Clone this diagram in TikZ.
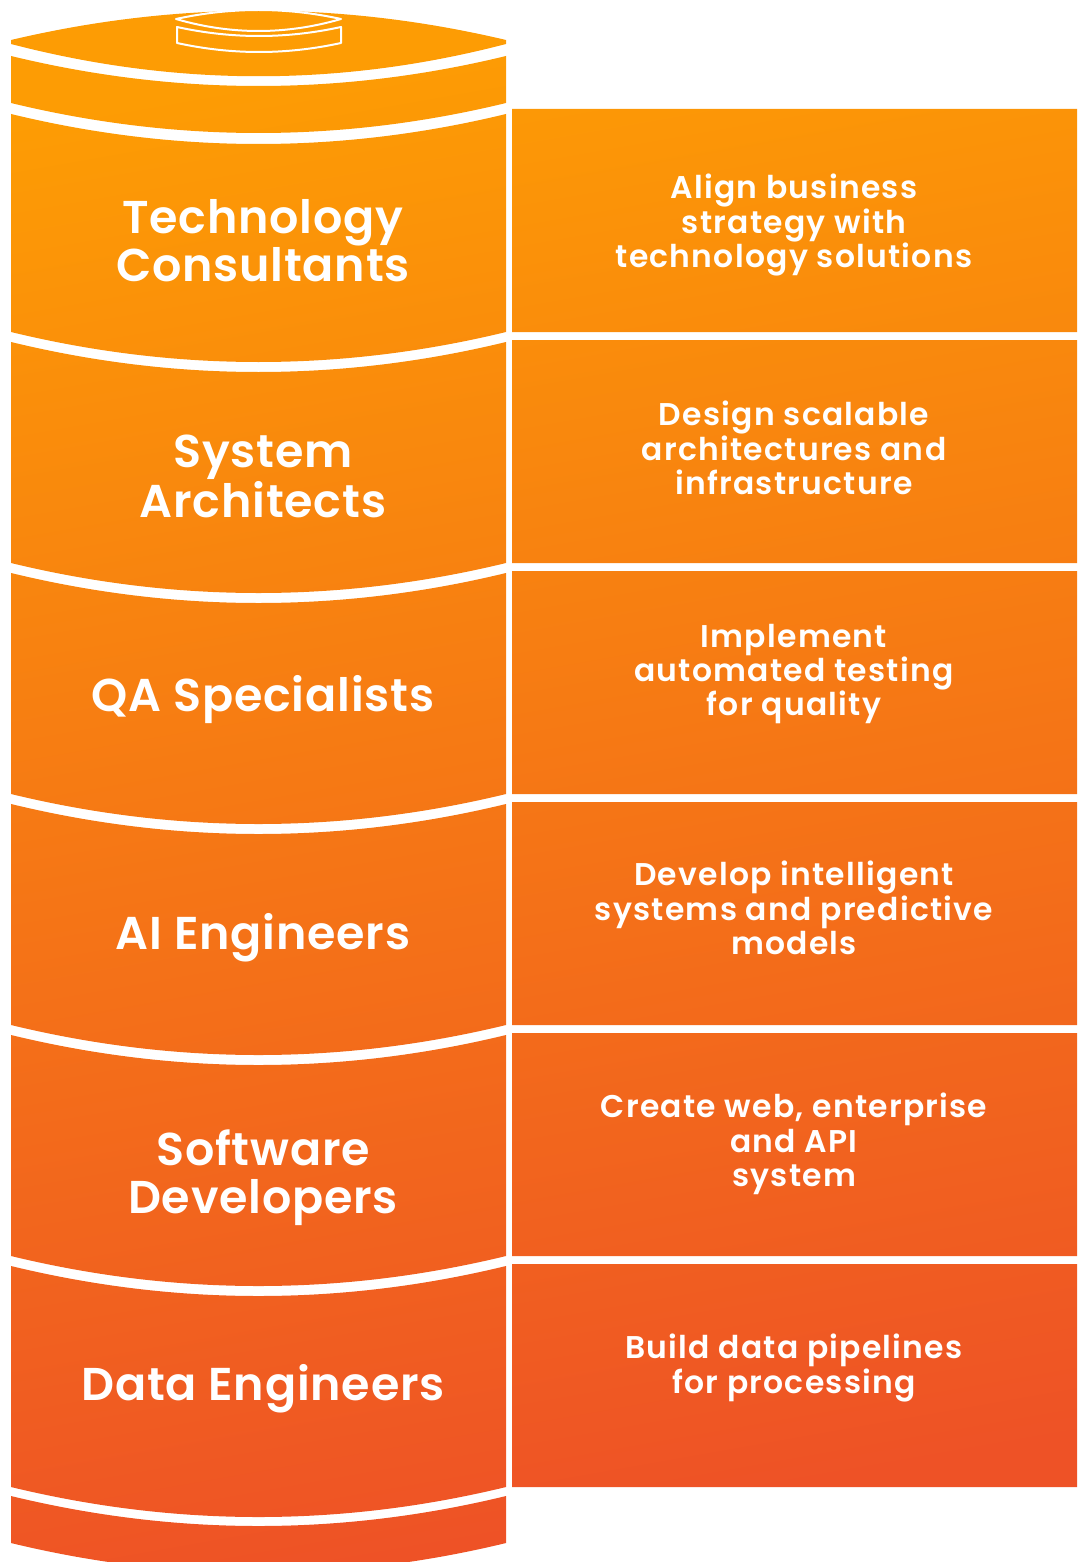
\documentclass[tikz,border=0pt]{standalone}
\usepackage{fontspec}
\setmainfont{Poppins}[BoldFont={Poppins SemiBold}]
\definecolor{zgoraj}{RGB}{253,156,4}
\definecolor{spodaj}{RGB}{238,82,38}
\tikzset{
  vloga/.style={text=white, font=\bfseries\fontsize{23}{24}\selectfont\addfontfeature{LetterSpace=1.7}, align=center},
  opis/.style={text=white, font=\bfseries\fontsize{15.7}{17.2}\selectfont\addfontfeature{LetterSpace=4}, align=center}
}
% en pas valja
\newcommand{\pas}[2]{(11,#1) -- (11,#2) .. controls (176,#2+40) and (341,#2+40) .. (506,#2) -- (506,#1) .. controls (341,#1+40) and (176,#1+40) .. (11,#1) -- cycle}
\begin{document}
\begin{tikzpicture}[x=0.5pt, y=-0.5pt]
  \useasboundingbox (0,0) rectangle (1077,1562);
  % valj in okvirji
  \begin{scope}
    \clip (0,0) rectangle (1077,1562);
    \path[clip]
      (11,40) .. controls (176,1) and (341,1) .. (506,40) -- (506,44) .. controls (341,87) and (176,87) .. (11,44) -- cycle
      \pas{56}{103}
      foreach \gor/\dol in {114/332, 342/563, 573/794, 804/1025, 1035/1256, 1266/1487} {\pas{\gor}{\dol}}
      \pas{1496}{1543}
      foreach \gor in {109, 340, 571, 802, 1033, 1264} {(512,\gor) rectangle (1077,\gor+223)};
    \shade[top color=zgoraj, bottom color=spodaj, shading angle=10] (0,0) rectangle (1077,1562);
  \end{scope}
  % ikona
  \draw[white, line width=1pt, line join=round]
    (176,19) .. controls (231,7) and (286,7) .. (341,19) .. controls (286,35) and (231,35) .. cycle;
  \draw[white, line width=1pt, line join=round]
    (177,27) -- (177,43) .. controls (232,55) and (286,55) .. (341,43) -- (341,27) .. controls (286,39) and (232,39) .. cycle;
  % oznake
  \node[vloga] (tc) at (263,241) {Technology\\Consultants};
  \node[vloga] (sa) at (263,476) {System\\Architects};
  \node[vloga] (qa) at (263,700) {QA Specialists};
  \node[vloga] (ai) at (263,938) {AI Engineers};
  \node[vloga] (sd) at (263,1178) {Software\\Developers};
  \node[vloga] (de) at (263,1389) {Data Engineers};
  \node[opis] (tc-opis) at (794,225) {Align business\\strategy with\\technology solutions};
  \node[opis] (sa-opis) at (794,448) {Design scalable\\architectures and\\infrastructure};
  \node[opis] (qa-opis) at (794,674) {Implement\\automated testing\\for quality};
  \node[opis] (ai-opis) at (794,908) {Develop intelligent\\systems and predictive\\models};
  \node[opis] (sd-opis) at (794,1144) {Create web, enterprise\\and API\\system};
  \node[opis] (de-opis) at (794,1368) {Build data pipelines\\for processing};
\end{tikzpicture}
\end{document}
